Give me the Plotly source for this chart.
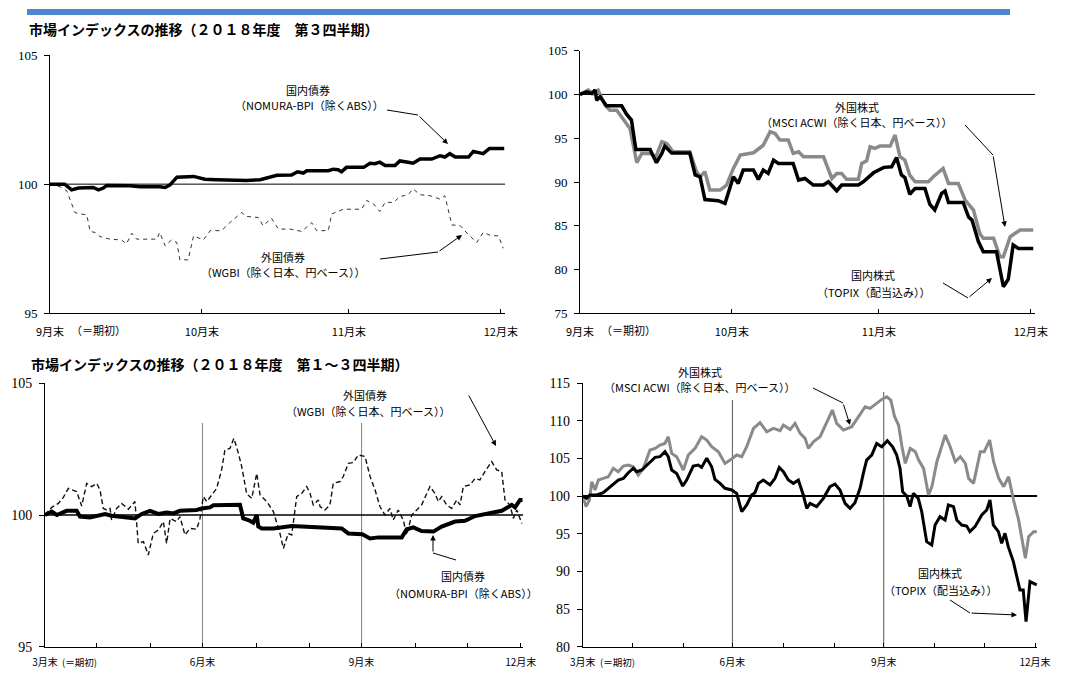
import plotly.graph_objects as go

W, H = 1065, 677

# ---------------- 2018 Q3 (Sep-end = 100), x = days after Sep-end ----------------
q3_ticks = [0, 31, 61, 92]
q3_ticktext = ["9月末", "10月末", "11月末", "12月末"]

q3_jgb_days = [0, 3, 4.4, 5.8, 8.8, 9.9, 10.9, 11.6, 16.3, 18.4,
               22.4, 23.5, 24.5, 25.9, 29.3, 30.3, 31.6, 34.0, 37.4, 40.1,
               42.9, 44.9, 46.3, 49.3, 50.5, 51.7, 52.4, 56.8, 57.8, 58.8,
               59.5, 60.5, 64.0, 65.3, 66.3, 67.3, 68.4, 70.4, 71.4, 73.1,
               74.1, 75.5, 77.9, 79.6, 80.6, 81.6, 82.7, 85.4, 86.4, 88.4,
               89.7, 92.7]
q3_jgb = [100.00, 100.00, 99.78, 99.85, 99.87, 99.78, 99.85, 99.95, 99.94, 99.90,
          99.90, 99.87, 99.97, 100.27, 100.30, 100.26, 100.19, 100.17, 100.14, 100.14,
          100.17, 100.27, 100.34, 100.35, 100.48, 100.43, 100.52, 100.52, 100.58, 100.56,
          100.48, 100.65, 100.65, 100.81, 100.79, 100.85, 100.72, 100.72, 100.90, 100.85,
          100.81, 100.97, 100.97, 101.10, 101.05, 101.18, 101.05, 101.05, 101.27, 101.18,
          101.38, 101.38]

q3_wgbi_days = [0, 2, 3.4, 4.1, 5.1, 6.1, 7.5, 8.2, 9.2, 10.2,
                12.2, 14.6, 15.6, 16.7, 17.7, 19.4, 21.8, 22.4, 23.5, 24.8,
                25.9, 26.5, 28.2, 29.3, 30.3, 31.3, 32.7, 35.0, 36.7, 39.1,
                40.1, 42.5, 43.5, 45.2, 46.6, 49.0, 51.4, 53.4, 54.4, 56.8,
                57.5, 59.9, 63.6, 64.6, 66.0, 67.3, 68.4, 70.1, 71.4, 73.1,
                74.1, 75.5, 77.6, 79.6, 80.6, 82.0, 83.7, 85.4, 87.1, 88.4,
                90.1, 91.5, 92.5]
q3_wgbi = [100.00, 99.90, 99.75, 99.39, 98.90, 98.85, 98.81, 98.17, 98.13, 97.97,
           97.87, 97.84, 97.69, 98.10, 97.87, 97.87, 97.87, 98.13, 97.61, 97.84,
           97.74, 97.07, 97.07, 98.00, 97.93, 97.84, 98.20, 98.20, 98.51, 98.90,
           98.75, 98.71, 98.39, 98.68, 98.26, 98.26, 98.17, 98.51, 98.20, 98.20,
           98.85, 99.03, 99.03, 99.37, 99.24, 98.94, 99.30, 99.29, 99.52, 99.59,
           99.82, 99.59, 99.55, 99.42, 99.55, 98.42, 98.40, 98.04, 97.74, 98.13,
           98.00, 98.00, 97.52]

q3_topix_days = [0, 1.4, 2.4, 3.1, 3.4, 4.1, 5.4, 8.5, 9.5, 10.5,
                 11.4, 14.3, 15.6, 16.7, 17.3, 18.7, 22.4, 23.5, 24.5, 25.5,
                 28.2, 29.6, 31.3, 32.3, 33.3, 35.4, 36.4, 37.4, 38.4, 39.5,
                 40.5, 43.5, 44.6, 45.9, 47.6, 49.7, 50.7, 52.4, 53.4, 56.8,
                 57.8, 59.9, 62.0, 63.6, 64.6, 65.6, 66.3, 67.3, 68.4, 70.4,
                 71.4, 72.4, 73.8, 74.5, 75.2, 78.2, 79.3, 80.0, 81.3, 82.3,
                 85.0, 86.4, 87.4, 88.4, 89.5, 92.5]
q3_topix = [100.00, 100.30, 100.10, 100.50, 99.35, 99.73, 98.70, 98.70, 97.75, 97.07,
            93.70, 93.70, 92.20, 93.26, 94.10, 93.30, 93.30, 90.80, 90.60, 88.00,
            87.86, 87.56, 90.60, 89.84, 91.36, 91.36, 90.30, 91.36, 90.98, 92.50,
            92.12, 92.12, 90.22, 90.40, 89.65, 89.65, 90.03, 89.00, 89.65, 89.65,
            90.03, 91.05, 91.67, 91.74, 92.80, 90.80, 90.50, 88.60, 89.27, 89.27,
            87.44, 86.80, 88.70, 88.96, 87.67, 87.67, 86.00, 85.65, 83.20, 82.04,
            82.04, 78.04, 78.88, 82.80, 82.40, 82.40]

q3_acwi_days = [0, 1.7, 2.7, 3.7, 5.1, 6.1, 7.5, 8.5, 10.2, 11.6,
                12.6, 14.3, 15.5, 16.7, 17.7, 19.0, 22.4, 23.8, 24.5, 25.5,
                26.5, 28.6, 29.9, 31.3, 32.7, 35.4, 37.4, 38.8, 39.8, 40.8,
                42.5, 43.5, 44.6, 45.6, 49.7, 51.4, 52.4, 53.4, 54.4, 56.8,
                57.5, 58.5, 59.2, 60.2, 61.2, 63.3, 64.3, 65.3, 66.3, 67.3,
                68.4, 71.1, 72.1, 74.1, 75.2, 77.2, 78.6, 80.3, 81.6, 82.3,
                84.4, 85.7, 86.4, 87.8, 89.1, 89.8, 92.5]
q3_acwi = [100.00, 100.50, 100.10, 100.50, 98.80, 98.20, 98.20, 97.45, 96.10, 92.20,
           93.26, 93.26, 92.88, 94.60, 94.40, 93.45, 93.45, 91.17, 90.60, 91.17,
           89.08, 89.08, 89.65, 91.55, 93.07, 93.34, 94.20, 95.74, 95.55, 94.80,
           94.80, 93.26, 93.45, 92.88, 92.88, 90.40, 90.98, 90.98, 90.30, 90.30,
           92.12, 92.43, 94.03, 93.84, 94.10, 94.10, 95.36, 92.88, 92.50, 90.78,
           90.03, 90.03, 90.60, 91.55, 89.84, 89.84, 87.94, 86.80, 84.13, 83.56,
           83.56, 81.47, 81.47, 83.75, 84.32, 84.51, 84.51]

# ---------------- 2018 Q1-Q3 (Mar-end = 100), x = days after Mar-end ----------------
fy_ticks = [0, 30, 61, 91, 122, 153, 183, 214, 244, 275]
fy_ticktext = ["3月末", "", "", "6月末", "", "", "9月末", "", "", "12月末"]
fy_quarter_ends = [91, 183]

fy_jgb_days = [0, 3.9, 6.8, 12.5, 18.3, 20.2, 26, 30.8, 34.7, 38.5,
               45.3, 52, 55.9, 60.7, 65.5, 70.3, 74.2, 78, 87.7, 90.6,
               95.4, 97.3, 112.7, 114.6, 117.5, 120.4, 122.4, 123.3, 125.3, 132,
               142.6, 152.2, 161.8, 171.5, 175.3, 183.4, 187.9, 192.7, 206.2, 209.1,
               212.9, 217.7, 224.5, 229.3, 237, 242.8, 248.6, 256.2, 264, 269.8,
               271.7, 274.6, 276]
fy_jgb = [100.00, 100.13, 100.00, 100.16, 100.16, 99.94, 99.91, 100.00, 100.04, 99.97,
          99.91, 99.87, 100.04, 100.16, 100.04, 100.09, 100.06, 100.16, 100.19, 100.25,
          100.29, 100.37, 100.39, 99.87, 99.81, 99.71, 100.00, 99.56, 99.49, 99.49,
          99.58, 99.56, 99.53, 99.49, 99.30, 99.27, 99.11, 99.15, 99.15, 99.46,
          99.53, 99.39, 99.37, 99.56, 99.75, 99.78, 99.96, 100.06, 100.16, 100.38,
          100.29, 100.57, 100.57]

fy_wgbi_days = [0, 3.9, 7.7, 10.6, 13.5, 18.3, 21.2, 24.1, 27, 29.9,
                31.8, 33.7, 35.6, 37.6, 38.5, 41.4, 44.3, 48.2, 52, 53.9,
                56.9, 59.7, 62.6, 65.5, 68.4, 70.3, 72.3, 76.1, 78, 80.9,
                83.8, 87.7, 89.6, 91.5, 93.5, 96.3, 99.2, 102.1, 104, 106.9,
                109.2, 111.8, 113.7, 116.6, 119.5, 122.4, 124.3, 128.2, 132, 135.8,
                137.8, 140.6, 142.6, 145.5, 148.4, 151.3, 153.2, 155.1, 158, 159,
                161.8, 164.7, 166.6, 170.5, 172.4, 175.3, 178.2, 181.1, 185, 187.9,
                190.8, 193.6, 196.5, 199.4, 201.3, 204.2, 207.1, 209.1, 212, 213.9,
                217.7, 222.5, 225.4, 227.4, 229.3, 232.2, 235.1, 238, 239.9, 241.8,
                245.7, 248.6, 251.4, 254.3, 258.2, 261.1, 264, 265.9, 268.8, 270.7,
                272.7, 275.6]
fy_wgbi = [100.00, 100.29, 100.44, 100.67, 101.01, 100.89, 100.34, 101.20, 101.08, 101.20,
           100.95, 100.25, 100.19, 100.25, 99.81, 100.25, 100.44, 100.22, 100.51, 98.92,
           98.99, 98.48, 99.30, 99.43, 99.75, 98.92, 99.87, 99.75, 99.94, 99.24,
           99.49, 99.46, 99.87, 100.70, 100.51, 100.76, 101.01, 101.71, 102.47, 102.53,
           102.91, 102.34, 101.84, 100.80, 100.63, 101.58, 100.76, 100.51, 100.13, 99.30,
           98.73, 99.30, 99.24, 100.70, 100.82, 101.08, 100.82, 100.38, 100.57, 100.32,
           100.19, 100.38, 101.20, 101.27, 101.46, 101.96, 101.99, 102.28, 102.22, 101.46,
           100.95, 100.32, 100.00, 100.25, 99.81, 100.19, 99.81, 99.24, 100.00, 100.13,
           100.38, 101.08, 100.82, 100.51, 100.70, 100.38, 100.25, 100.57, 100.38, 101.08,
           101.14, 101.39, 101.33, 101.65, 102.03, 101.71, 101.65, 100.57, 100.38, 99.87,
           100.19, 99.68]

fy_topix_days = [0, 2.4, 4.4, 8.5, 12.5, 15.6, 18.6, 21.6, 24.7, 27.7,
                 30.8, 32.8, 35.9, 39.9, 44, 47, 50, 52, 54.1, 57.1,
                 60.8, 63.2, 67.2, 70.3, 72.3, 75.4, 78.4, 80.4, 83.5, 86.5,
                 90.6, 93.6, 96.7, 99.7, 102.7, 104.7, 106.8, 109.8, 113.9, 116.9,
                 119.5, 122, 125, 128.1, 131.1, 134.1, 136.2, 138.2, 142.2, 146.3,
                 150.3, 153.4, 156.4, 159.5, 162.5, 165.5, 168.6, 170.6, 172.6, 175.7,
                 178.7, 181.8, 185.2, 188.4, 190.9, 192.9, 194.5, 197, 199, 201,
                 204, 206.1, 209.1, 212.2, 214.2, 217.2, 220.3, 222.3, 225.4, 227.4,
                 230.4, 233.4, 235.4, 238.5, 242.6, 245.6, 247.6, 249.6, 252.7, 254.7,
                 256.7, 258.7, 261.8, 265.8, 267.8, 269.5, 271.9, 276]
fy_topix = [100.00, 99.69, 100.13, 100.13, 100.44, 101.02, 101.68, 102.12, 102.34, 103.09,
            103.67, 103.23, 103.45, 104.33, 105.13, 105.22, 105.88, 105.22, 103.45, 103.00,
            101.33, 102.12, 103.98, 104.11, 103.80, 105.00, 103.89, 102.21, 101.68, 101.02,
            100.80, 100.35, 97.92, 98.81, 100.13, 100.44, 101.68, 102.12, 101.46, 102.34,
            103.80, 103.23, 102.12, 101.68, 102.12, 100.13, 98.36, 99.03, 98.59, 99.69,
            101.24, 101.59, 100.80, 99.03, 98.36, 99.12, 101.02, 103.00, 104.77, 105.44,
            106.98, 106.54, 107.34, 106.54, 105.44, 103.67, 100.57, 100.00, 98.59, 100.35,
            99.69, 97.92, 93.94, 93.50, 96.15, 97.26, 96.82, 98.81, 98.59, 96.82,
            96.15, 96.02, 95.27, 95.93, 97.48, 98.14, 99.47, 96.15, 95.27, 93.72,
            95.05, 93.28, 91.29, 87.53, 87.53, 83.33, 88.64, 88.20]

fy_acwi_days = [0, 2, 4.1, 5.5, 7.5, 9.5, 12.5, 15.6, 18.6, 21.6,
                24.7, 27.7, 30.8, 33.8, 36.9, 40.9, 44, 47, 50, 52,
                54.1, 57.1, 61.2, 64.2, 68.3, 72.3, 75.4, 78.4, 82.5, 86.5,
                89.6, 93.6, 96.7, 99.7, 103.8, 107.8, 111.9, 115.9, 120, 122,
                126.1, 129.1, 132.2, 135.2, 137.2, 140.2, 144.3, 148.4, 151.8, 154.4,
                158.5, 163.6, 167.6, 171.7, 174.7, 178.4, 181.8, 184.9, 187.3, 189.6,
                192, 194.1, 196.1, 199.1, 202.2, 204.2, 207.2, 210.2, 212.3, 215.3,
                218.4, 220.4, 223.4, 226.5, 229.5, 232.6, 234.6, 237.6, 241.7, 244.1,
                247.4, 249.8, 252.9, 255.9, 258.9, 261.9, 265, 267, 269.1, 271.1,
                274.1, 276.1]
fy_acwi = [100.00, 98.59, 99.47, 101.90, 100.80, 102.12, 102.34, 102.56, 103.67, 103.23,
           103.98, 104.11, 103.89, 102.79, 103.67, 106.10, 106.32, 106.76, 106.98, 107.87,
           105.66, 105.22, 103.45, 105.44, 106.32, 107.87, 107.43, 106.54, 105.88, 104.33,
           104.77, 105.44, 105.22, 106.54, 108.97, 109.73, 108.53, 108.97, 108.66, 109.42,
           108.84, 109.64, 108.31, 107.65, 106.32, 107.20, 107.87, 109.86, 111.41, 109.64,
           108.75, 109.20, 110.52, 111.85, 111.63, 112.29, 112.82, 113.17, 112.73, 110.52,
           109.42, 106.54, 104.33, 106.32, 105.88, 104.77, 103.67, 100.13, 101.24, 104.55,
           106.76, 108.09, 106.54, 104.55, 105.22, 104.33, 102.34, 101.68, 105.88, 105.88,
           107.43, 104.55, 102.34, 101.24, 102.56, 99.47, 96.82, 94.39, 91.73, 94.61,
           95.27, 95.27]

BASE = 100

# ---------------- helpers ----------------
JP = "Noto Sans CJK JP"
SERIF = "Liberation Serif"
GRAY = "#8a8a8a"


def px(x, y):
    return x / W, 1 - y / H


fig = go.Figure()


def line(xs, ys, ax, color, width, dash="solid"):
    fig.add_trace(go.Scatter(x=xs, y=ys, xaxis="x" + ax, yaxis="y" + ax,
                             mode="lines", hoverinfo="skip",
                             line=dict(color=color, width=width, dash=dash)))


# panel 1: bonds Q3
line(q3_wgbi_days, q3_wgbi, "", "#333", 1, "4px,4px")
line(q3_jgb_days, q3_jgb, "", "black", 3.5)
# panel 2: equities Q3
line(q3_acwi_days, q3_acwi, "2", GRAY, 3.5)
line(q3_topix_days, q3_topix, "2", "black", 3.5)
# panel 3: bonds FY
line(fy_wgbi_days, fy_wgbi, "3", "#111", 1.4, "5px,3px")
line(fy_jgb_days, fy_jgb, "3", "black", 4)
# panel 4: equities FY
line(fy_acwi_days, fy_acwi, "4", GRAY, 3)
line(fy_topix_days, fy_topix, "4", "black", 3)


def xax(left_px, right_px, rng, tickvals, ticktext, size, standoff):
    return dict(domain=[left_px / W, right_px / W], range=rng, showgrid=False,
                zeroline=False, showline=True, linecolor="black", linewidth=1,
                tickvals=tickvals, ticktext=ticktext, ticks="inside", ticklen=4,
                tickcolor="black", tickfont=dict(family=JP, size=size, color="black"),
                ticklabelstandoff=standoff, automargin=False, fixedrange=True)


def yax(top_px, bottom_px, rng, tickvals, anchor, size):
    return dict(domain=[1 - bottom_px / H, 1 - top_px / H], range=rng, showgrid=False,
                zeroline=False, showline=True, linecolor="black", linewidth=1,
                tickvals=tickvals, ticks="outside", ticklen=5, tickcolor="black",
                tickfont=dict(family=SERIF, size=size, color="black"), anchor=anchor,
                ticklabelstandoff=4, automargin=False, fixedrange=True)


q3_end = 92.9
fy_end = 276.4
fig.update_layout(
    width=W, height=H, margin=dict(l=0, r=0, t=0, b=0, autoexpand=False),
    paper_bgcolor="white", plot_bgcolor="white", showlegend=False,
    xaxis=xax(50, 50 + q3_end * 4.9, [0, q3_end], q3_ticks, q3_ticktext, 11, 8) | dict(anchor="y"),
    yaxis=yax(55, 313.3, [95, 105], [95, 100, 105], "x", 13),
    xaxis2=xax(580, 580 + q3_end * 4.9, [0, q3_end], q3_ticks, q3_ticktext, 11, 8) | dict(anchor="y2"),
    yaxis2=yax(50.7, 313.3, [75, 105], list(range(75, 106, 5)), "x2", 13),
    xaxis3=xax(45, 45 + fy_end * 1.73, [0, fy_end], fy_ticks, fy_ticktext, 10, 6) | dict(anchor="y3"),
    yaxis3=yax(383.3, 646.7, [95, 105], [95, 100, 105], "x3", 14),
    xaxis4=xax(582.7, 582.7 + fy_end * 1.645, [0, fy_end], fy_ticks, fy_ticktext, 10, 6) | dict(anchor="y4"),
    yaxis4=yax(383, 646.7, [80, 115], list(range(80, 116, 5)), "x4", 14),
)

shapes = []
# baseline at 100 in each panel
for ax, end, w in [("", q3_end, 1), ("2", q3_end, 1), ("3", fy_end, 1.5), ("4", fy_end, 2)]:
    shapes.append(dict(type="line", xref="x" + ax, yref="y" + ax, x0=0, x1=end,
                       y0=BASE, y1=BASE, line=dict(color="black", width=w), layer="below"))
# quarter-end markers in the full-year panels
for d, top in zip(fy_quarter_ends, [423, 423]):
    shapes.append(dict(type="line", xref="x3", yref="paper", x0=d, x1=d,
                       y0=px(0, 646.7)[1], y1=px(0, top)[1],
                       line=dict(color="#808080", width=1), layer="below"))
for d, top in zip(fy_quarter_ends, [400, 392]):
    shapes.append(dict(type="line", xref="x4", yref="paper", x0=d, x1=d,
                       y0=px(0, 646.7)[1], y1=px(0, top)[1],
                       line=dict(color="#555", width=1), layer="below"))
# header bar
x0, y0 = px(27, 9)
x1, y1 = px(1010, 15)
shapes.append(dict(type="rect", xref="paper", yref="paper", x0=x0, x1=x1, y0=y1, y1=y0,
                   fillcolor="#4E86D0", line=dict(width=0)))

annotations = []


def text(x, y, s, size=11, anchor="center", bold=False):
    xx, yy = px(x, y)
    annotations.append(dict(xref="paper", yref="paper", x=xx, y=yy, text=f"<b>{s}</b>" if bold else s,
                            showarrow=False, xanchor=anchor, yanchor="middle",
                            font=dict(family=JP, size=size, color="black")))


def pointer(points):
    # leader line through the first points, arrowhead on the last one
    if len(points) > 2:
        path = "M " + " L ".join(f"{px(a, b)[0]},{px(a, b)[1]}" for a, b in points[:-1])
        shapes.append(dict(type="path", xref="paper", yref="paper", path=path,
                           line=dict(color="black", width=1)))
    (tx, ty), (hx, hy) = points[-2], points[-1]
    xx, yy = px(hx, hy)
    annotations.append(dict(xref="paper", yref="paper", x=xx, y=yy, text="", showarrow=True,
                            ax=tx - hx, ay=ty - hy, arrowhead=2, arrowsize=1.1,
                            arrowwidth=1, arrowcolor="black"))


text(27, 29, "市場インデックスの推移（２０１８年度　第３四半期）", 14, "left", True)
text(29, 364, "市場インデックスの推移（２０１８年度　第１～３四半期）", 14, "left", True)

# period-start notes next to the first tick labels
text(98, 330, "（＝期初）", 11)
text(628, 330, "（＝期初）", 11)
text(79, 662, "(＝期初)", 9.5)
text(617, 662, "(＝期初)", 9.5)

# panel 1 labels
text(308, 90, "国内債券")
text(309, 105, "（NOMURA-BPI（除くABS））")
pointer([(387, 110), (418, 115), (448, 144)])
text(283, 257, "外国債券")
text(283, 272, "（WGBI（除く日本、円ベース））")
pointer([(380, 259), (438, 252), (462, 235)])

# panel 2 labels
text(857, 107, "外国株式")
text(857, 122, "（MSCI ACWI（除く日本、円ベース））")
pointer([(965, 125), (993, 155), (1005, 227)])
text(873, 275, "国内株式")
text(873, 292, "（TOPIX（配当込み））")
pointer([(943, 283), (968, 298), (992, 278)])

# panel 3 labels
text(365, 395, "外国債券")
text(368, 411, "（WGBI（除く日本、円ベース））")
pointer([(468, 394), (496, 446)])
text(463, 576, "国内債券")
text(463, 593, "（NOMURA-BPI（除くABS））")
pointer([(456, 560), (433, 553), (433, 535)])

# panel 4 labels
text(700, 372, "外国株式")
text(700, 387, "（MSCI ACWI（除く日本、円ベース））")
pointer([(813, 388), (843, 403), (850, 425)])
text(940, 573, "国内株式")
text(940, 590, "（TOPIX（配当込み））")
pointer([(950, 600), (970, 613), (1017, 615)])

fig.update_layout(shapes=shapes, annotations=annotations)
fig.write_html("out.html")
